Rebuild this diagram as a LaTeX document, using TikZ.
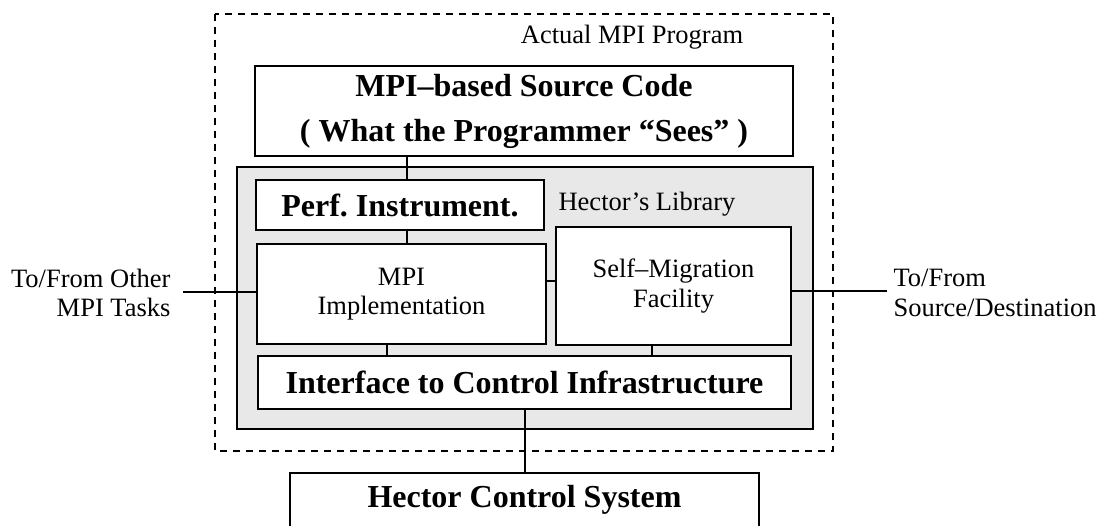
\documentclass[tikz,border=0pt]{standalone}
\usepackage{fontspec}
\setmainfont{Liberation Serif}
\usepackage{tikz}
\usepackage{xcolor}
\usetikzlibrary{calc}
\definecolor{libgray}{gray}{0.91}

\begin{document}
\begin{tikzpicture}[x=1pt, y=-1pt,
  box/.style={draw, line width=2.2pt, fill=white, inner sep=0pt, align=center},
  bigtext/.style={font=\fontsize{32}{45}\selectfont\bfseries},
  smalltext/.style={font=\fontsize{26.5}{29.5}\selectfont},
  link/.style={line width=2pt}]
  \useasboundingbox (0,0) rectangle (1099,525);
  % Outer program frame
  \draw[dashed, line width=2pt, dash pattern=on 7pt off 6pt] (215,14) rectangle (833,451);
  \node[smalltext] (progname) at (632,37) {Actual MPI Program};
  % Source code
  \node[box, bigtext, minimum width=538, minimum height=90] (src) at (524,111)
    {MPI--based Source Code\\( What the Programmer ``Sees'' )};
  % Library
  \node[draw, line width=2.2pt, fill=libgray, minimum width=576, minimum height=262] (lib) at (525,298) {};
  \node[smalltext] (libname) at (647,204) {Hector's Library};
  \node[box, bigtext, minimum width=288, minimum height=50] (perf) at (400,205) {Perf.\ Instrument.};
  \node[box, smalltext, minimum width=289, minimum height=100] (impl) at (401.5,294) {MPI\\Implementation};
  \node[box, smalltext, minimum width=235, minimum height=118] (selfmig) at (673.5,286) {Self--Migration\\Facility};
  \node[box, bigtext, minimum width=533, minimum height=53] (iface) at (524.5,382.5) {Interface to Control Infrastructure};
  % Control system
  \node[box, bigtext, minimum width=469, minimum height=54] (hector) at (524.5,500) {Hector Control System};
  % Outside labels
  \node[smalltext, anchor=east, align=right] (tasks) at (174,293) {To/From Other\\MPI Tasks};
  \node[smalltext, anchor=west, align=left] (dest) at (890,293) {To/From\\Source/Destination};
  \coordinate (leftend) at (183,292);
  \coordinate (rightend) at (887,291);
  % Links
  \draw[link] ([xshift=7pt]perf.north) -- ([xshift=7pt]perf.north |- src.south);
  \draw[link] ([xshift=7pt]perf.south) -- ([xshift=7pt]perf.south |- impl.north);
  \draw[link] ([yshift=13pt]impl.east) -- ([yshift=13pt]impl.east -| selfmig.west);
  \draw[link] (leftend) -- (leftend -| impl.west);
  \draw[link] (rightend) -- (rightend -| selfmig.east);
  \draw[link] ([xshift=-14.5pt]impl.south) -- ([xshift=-14.5pt]impl.south |- iface.north);
  \draw[link] ([xshift=-21.5pt]selfmig.south) -- ([xshift=-21.5pt]selfmig.south |- iface.north);
  \draw[link] (iface.south) -- (hector.north);
\end{tikzpicture}
\end{document}
